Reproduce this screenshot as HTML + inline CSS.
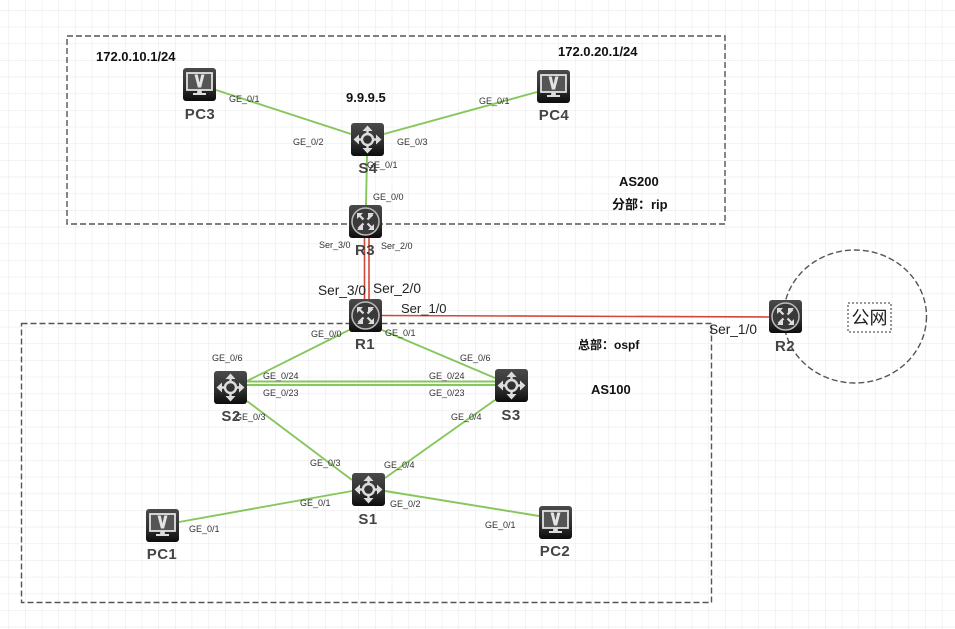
<!DOCTYPE html>
<html><head><meta charset="utf-8">
<style>
html,body{margin:0;padding:0;background:#fff;width:955px;height:629px;overflow:hidden}
svg{display:block;font-family:"Liberation Sans","Noto Sans CJK SC",sans-serif;filter:blur(.35px)}
.p{font-size:9px;fill:#333}
.s{font-size:13.700px;fill:#222}
.n{font-size:15px;font-weight:bold;fill:#444;text-anchor:middle;letter-spacing:.4px}
.b{font-size:13px;font-weight:bold;fill:#111}
.g{stroke:#86c75c;stroke-width:1.900;fill:none}
.r{stroke:#d2473a;stroke-width:1.600;fill:none}
.d{fill:none;stroke:#555;stroke-width:1.400;stroke-dasharray:6 3}
</style></head><body>
<svg width="955" height="629" viewBox="0 0 955 629" xmlns="http://www.w3.org/2000/svg">
<defs>
<pattern id="grid" width="16.67" height="16.67" patternUnits="userSpaceOnUse" x="8.3" y="10">
<path d="M0 0H16.67M0 0V16.67" stroke="#ebebeb" stroke-width="1.200" fill="none"/>
</pattern>
<linearGradient id="bg" x1="0" y1="0" x2="0" y2="1"><stop offset="0" stop-color="#4a4a4a"/><stop offset=".6" stop-color="#2e2e2e"/><stop offset="1" stop-color="#0c0c0c"/></linearGradient>
<symbol id="pc" viewBox="0 0 33 33"><rect width="33" height="33" rx="3" fill="url(#bg)"/>
<rect x="4" y="5" width="25" height="17" fill="#555" stroke="#e2e2e2" stroke-width="1.800"/>
<path d="M11.500 6.500h3.200l1.800 8 1.800-8h3.200l-3.400 13h-3.200z" fill="#e4e4e4"/>
<path d="M14.500 22h4l.5 3h4v2h-13v-2h4z" fill="#ddd"/></symbol>
<symbol id="sw" viewBox="0 0 33 33"><rect width="33" height="33" rx="3" fill="url(#bg)"/>
<g fill="none" stroke="#ddd" stroke-width="2.400"><circle cx="16.500" cy="16.500" r="5.500"/>
<path d="M16.500 11V7M16.500 22V26M11 16.500H7M22 16.500H26"/></g>
<path d="M16.500 2.500l5 5.500h-10zM16.500 30.500l5-5.500h-10zM2.500 16.500l5.500-5v10zM30.500 16.500l-5.500-5v10z" fill="#ddd"/></symbol>
<symbol id="rt" viewBox="0 0 33 33"><rect width="33" height="33" rx="3" fill="url(#bg)"/>
<circle cx="16.500" cy="16.500" r="13.500" fill="#3a3a3a" stroke="#bbb" stroke-width="1.500"/>
<g stroke="#ddd" stroke-width="2.200" fill="none"><path d="M9.500 9.500l5 5M23.500 23.500l-5-5M23.500 9.500l-5 5M9.500 23.500l5-5"/></g>
<path d="M8 8h6l-6 6zM25 25h-6l6-6zM14 19v6H8zM19 14V8h6z" fill="#ddd"/></symbol>
</defs>
<rect width="955" height="629" fill="#fff"/>
<rect width="955" height="629" fill="url(#grid)"/>

<rect class="d" x="67" y="36" width="658" height="188"/>
<rect class="d" x="21.500" y="323.500" width="690" height="279"/>
<ellipse class="d" cx="855" cy="316.500" rx="71.500" ry="66.500"/>

<path class="g" d="M216 90L351 134M384 134L537 92M367 156L366 205"/>
<path class="g" d="M349 330L247 381M382 330L495 378M247 381.500H495M247 385H495M247 401L352 480M495 400L385 478M179 522L352 491M385 491L539 516"/>
<path class="r" d="M364.500 238V299M369 238V299M382 315.500L769 317"/>

<use href="#pc" x="183" y="68" width="33" height="33"/>
<use href="#pc" x="537" y="70" width="33" height="33"/>
<use href="#sw" x="351" y="123" width="33" height="33"/>
<use href="#rt" x="349" y="205" width="33" height="33"/>
<use href="#rt" x="349" y="299" width="33" height="33"/>
<use href="#rt" x="769" y="300" width="33" height="33"/>
<use href="#sw" x="214" y="371" width="33" height="33"/>
<use href="#sw" x="495" y="369" width="33" height="33"/>
<use href="#sw" x="352" y="473" width="33" height="33"/>
<use href="#pc" x="146" y="509" width="33" height="33"/>
<use href="#pc" x="539" y="506" width="33" height="33"/>

<text class="n" x="200" y="119">PC3</text>
<text class="n" x="554" y="120">PC4</text>
<text class="n" x="368" y="173">S4</text>
<text class="n" x="365" y="255">R3</text>
<text class="n" x="365" y="349">R1</text>
<text class="n" x="785" y="351">R2</text>
<text class="n" x="231" y="421">S2</text>
<text class="n" x="511" y="420">S3</text>
<text class="n" x="368" y="524">S1</text>
<text class="n" x="162" y="559">PC1</text>
<text class="n" x="555" y="556">PC2</text>

<text class="b" x="96" y="61">172.0.10.1/24</text>
<text class="b" x="558" y="56">172.0.20.1/24</text>
<text class="b" x="346" y="102">9.9.9.5</text>
<text class="b" x="619" y="186">AS200</text>
<text class="b" x="612" y="209">分部：rip</text>
<text class="b" x="578" y="349" style="font-size:12px">总部：ospf</text>
<text class="b" x="591" y="394">AS100</text>

<text class="p" x="229" y="102">GE_0/1</text>
<text class="p" x="479" y="104">GE_0/1</text>
<text class="p" x="293" y="145">GE_0/2</text>
<text class="p" x="397" y="145">GE_0/3</text>
<text class="p" x="367" y="168">GE_0/1</text>
<text class="p" x="373" y="200">GE_0/0</text>
<text class="p" x="319" y="248">Ser_3/0</text>
<text class="p" x="381" y="249">Ser_2/0</text>
<text class="s" x="318" y="295">Ser_3/0</text>
<text class="s" x="373" y="293">Ser_2/0</text>
<text class="s" x="401" y="313" style="font-size:13px">Ser_1/0</text>
<text class="s" x="709" y="334">Ser_1/0</text>
<text class="p" x="311" y="337">GE_0/0</text>
<text class="p" x="385" y="336">GE_0/1</text>
<text class="p" x="212" y="361">GE_0/6</text>
<text class="p" x="460" y="361">GE_0/6</text>
<text class="p" x="263" y="379">GE_0/24</text>
<text class="p" x="429" y="379">GE_0/24</text>
<text class="p" x="263" y="396">GE_0/23</text>
<text class="p" x="429" y="396">GE_0/23</text>
<text class="p" x="235" y="420">GE_0/3</text>
<text class="p" x="451" y="420">GE_0/4</text>
<text class="p" x="310" y="466">GE_0/3</text>
<text class="p" x="384" y="468">GE_0/4</text>
<text class="p" x="300" y="506">GE_0/1</text>
<text class="p" x="390" y="507">GE_0/2</text>
<text class="p" x="189" y="532">GE_0/1</text>
<text class="p" x="485" y="528">GE_0/1</text>

<rect x="848" y="303" width="43" height="29" fill="#fff" stroke="#333" stroke-width="1" stroke-dasharray="2 2"/>
<text x="869.500" y="324" text-anchor="middle" style="font-size:18px;fill:#222">公网</text>
</svg>
</body></html>
